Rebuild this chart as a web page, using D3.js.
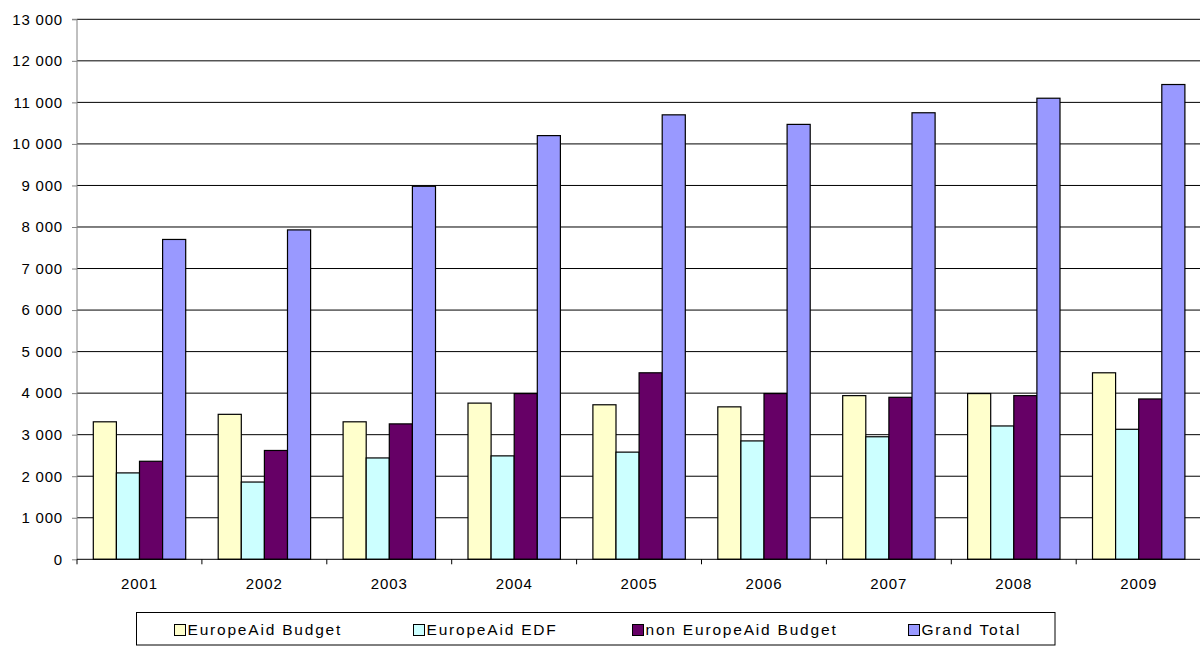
<!DOCTYPE html>
<html>
<head>
<meta charset="utf-8">
<script src="https://cdn.jsdelivr.net/npm/d3@7"></script>
<style>
  html, body { margin: 0; padding: 0; background: #fff; }
  svg { display: block; font-family: "Liberation Sans", Arial, sans-serif; }
</style>
</head>
<body>
<svg id="chart" width="1200" height="646"></svg>
<script>
// ---- data ----
const years = ["2001","2002","2003","2004","2005","2006","2007","2008","2009"];
const seriesNames = ["EuropeAid Budget","EuropeAid EDF","non EuropeAid Budget","Grand Total"];
const europeAidBudget = [3310, 3490, 3310, 3760, 3720, 3670, 3940, 3990, 4490];
const europeAidEDF    = [2080, 1860, 2440, 2490, 2580, 2850, 2950, 3210, 3130];
const nonEuropeAid    = [2360, 2620, 3260, 3990, 4490, 3990, 3900, 3940, 3860];
const grandTotal      = [7700, 7930, 8980, 10200, 10700, 10470, 10750, 11100, 11430];
const yTicks = [0,1000,2000,3000,4000,5000,6000,7000,8000,9000,10000,11000,12000,13000];
const colors = ["#FFFFCC","#CCFFFF","#660066","#9999FF"];

(function () {
const allSeries = [europeAidBudget, europeAidEDF, nonEuropeAid, grandTotal];
const rows = years.map((yr, i) => ({ year: yr, values: allSeries.map((s, k) => ({ key: seriesNames[k], value: s[i] })) }));

const svg = d3.select("#chart");
const pLeft = 77, pTop = 19.3, pBottom = 559.3, band = 124.9;
const pRight = pLeft + band * years.length;

const x = d3.scaleBand().domain(years).range([pLeft, pRight]).paddingInner(0).paddingOuter(0);
const xs = d3.scaleBand().domain(seriesNames).range([16.3, 108.7]).padding(0);
const y = d3.scaleLinear().domain([0, 13000]).range([pBottom, pTop]);

const loc = d3.formatLocale({ decimal: ",", thousands: " ", grouping: [3], currency: ["", ""] });
const fmt = loc.format(",d");

// gridlines
svg.append("g").selectAll("line").data(yTicks.filter(d => d > 0)).join("line")
  .attr("x1", pLeft).attr("x2", 1200)
  .attr("y1", d => y(d)).attr("y2", d => y(d))
  .attr("stroke", "#000").attr("stroke-width", 1);

// y axis
const yAxis = d3.axisLeft(y).tickValues(yTicks).tickFormat(fmt).tickSize(5).tickPadding(9);
const gy = svg.append("g").attr("transform", `translate(${pLeft},0)`).call(yAxis);
gy.select(".domain").attr("stroke", "#808080").attr("d", `M-5,${pTop}H0V${pBottom}`);
gy.selectAll(".tick line").attr("stroke", "#808080");
gy.selectAll(".tick text").attr("font-size", 15).attr("fill", "#000")
  .attr("font-family", "'Liberation Sans', Arial, sans-serif").style("letter-spacing", "0.8px");

// bars
const groups = svg.append("g").selectAll("g").data(rows).join("g")
  .attr("transform", d => `translate(${x(d.year)},0)`);
groups.selectAll("rect").data(d => d.values).join("rect")
  .attr("x", d => xs(d.key))
  .attr("width", xs.bandwidth())
  .attr("y", d => y(d.value))
  .attr("height", d => y(0) - y(d.value))
  .attr("fill", (d, i) => colors[i])
  .attr("stroke", "#000").attr("stroke-width", 1.2);

// x axis
const xAxis = d3.axisBottom(x).tickSize(0).tickPadding(19);
const gx = svg.append("g").attr("transform", `translate(0,${pBottom})`).call(xAxis);
gx.select(".domain").attr("stroke", "#000").attr("d", `M${pLeft},0H1200`);
gx.selectAll(".tick text").attr("font-size", 15).attr("fill", "#000")
  .attr("font-family", "'Liberation Sans', Arial, sans-serif").style("letter-spacing", "0.9px");
// category separator ticks
svg.append("g").selectAll("line").data(years.concat(["end"])).join("line")
  .attr("x1", (d, i) => pLeft + i * x.step()).attr("x2", (d, i) => pLeft + i * x.step())
  .attr("y1", pBottom).attr("y2", pBottom + 5)
  .attr("stroke", "#000").attr("stroke-width", 1);

// legend
const lg = svg.append("g");
lg.append("rect").attr("x", 136.5).attr("y", 612.5).attr("width", 918.5).attr("height", 32.5)
  .attr("fill", "#fff").attr("stroke", "#000").attr("stroke-width", 1);
const legendX = [174, 413, 632, 908];
const items = lg.selectAll("g.item").data(seriesNames).join("g").attr("class", "item")
  .attr("transform", (d, i) => `translate(${legendX[i]},624)`);
items.append("rect").attr("x", 0.5).attr("y", 0.5).attr("width", 11).attr("height", 11)
  .attr("fill", (d, i) => colors[i]).attr("stroke", "#000").attr("stroke-width", 1);
items.append("text").attr("x", 13.5).attr("y", 11.3).text(d => d)
  .attr("font-size", 15.5).attr("fill", "#000").style("letter-spacing", "1.8px");
})();
</script>
</body>
</html>
